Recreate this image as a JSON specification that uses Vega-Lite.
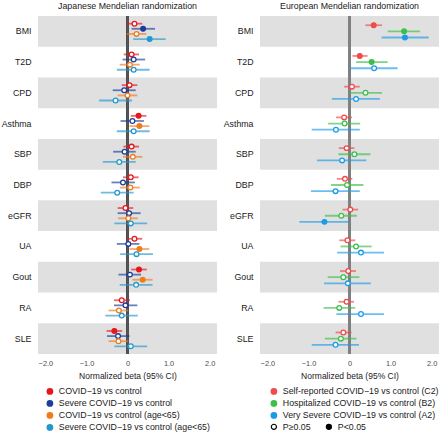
{
  "$schema": "https://vega.github.io/schema/vega-lite/v6.json",
  "padding": {"left": 1, "top": 1, "right": 0, "bottom": 0},
  "spacing": 6,
  "config": {
    "font": "Liberation Sans",
    "view": {"stroke": null},
    "title": {"fontSize": 8.8, "fontWeight": "normal", "color": "#1a1a1a", "offset": 4.7, "anchor": "middle"},
    "axisX": {"ticks": false, "domain": false, "labelFontSize": 7.4, "labelColor": "#4d4d4d", "labelPadding": 5, "titleFontSize": 8.5, "titleFontWeight": "normal", "titleColor": "#1a1a1a", "titlePadding": 5, "gridColor": "#bdbdbd", "gridDash": [2, 2], "gridWidth": 0.8, "zindex": 1},
    "axisY": {"ticks": false, "domain": false, "grid": false, "labelFontSize": 8.8, "labelColor": "#1a1a1a", "labelPadding": 7, "title": null},
    "legend": {"labelFontSize": 8.8, "labelColor": "#1a1a1a", "padding": 0, "symbolType": "circle", "symbolSize": 45, "rowPadding": 2, "labelOffset": 4.5}
  },
  "datasets": {
    "jp": [
      {"t": "BMI", "s": "COVID−19 vs control", "b": 0.17, "lo": -0.02, "hi": 0.36, "p": "P≥0.05"},
      {"t": "BMI", "s": "Severe COVID−19 vs control", "b": 0.38, "lo": 0.10, "hi": 0.67, "p": "P<0.05"},
      {"t": "BMI", "s": "COVID−19 vs control (age<65)", "b": 0.22, "lo": -0.02, "hi": 0.46, "p": "P≥0.05"},
      {"t": "BMI", "s": "Severe COVID−19 vs control (age<65)", "b": 0.54, "lo": 0.14, "hi": 0.93, "p": "P<0.05"},
      {"t": "T2D", "s": "COVID−19 vs control", "b": 0.10, "lo": -0.09, "hi": 0.28, "p": "P≥0.05"},
      {"t": "T2D", "s": "Severe COVID−19 vs control", "b": 0.15, "lo": -0.12, "hi": 0.43, "p": "P≥0.05"},
      {"t": "T2D", "s": "COVID−19 vs control (age<65)", "b": 0.06, "lo": -0.19, "hi": 0.30, "p": "P≥0.05"},
      {"t": "T2D", "s": "Severe COVID−19 vs control (age<65)", "b": 0.15, "lo": -0.26, "hi": 0.54, "p": "P≥0.05"},
      {"t": "CPD", "s": "COVID−19 vs control", "b": 0.05, "lo": -0.14, "hi": 0.24, "p": "P≥0.05"},
      {"t": "CPD", "s": "Severe COVID−19 vs control", "b": -0.08, "lo": -0.36, "hi": 0.20, "p": "P≥0.05"},
      {"t": "CPD", "s": "COVID−19 vs control (age<65)", "b": 0.00, "lo": -0.24, "hi": 0.24, "p": "P≥0.05"},
      {"t": "CPD", "s": "Severe COVID−19 vs control (age<65)", "b": -0.29, "lo": -0.69, "hi": 0.11, "p": "P≥0.05"},
      {"t": "Asthma", "s": "COVID−19 vs control", "b": 0.27, "lo": 0.08, "hi": 0.46, "p": "P<0.05"},
      {"t": "Asthma", "s": "Severe COVID−19 vs control", "b": 0.12, "lo": -0.17, "hi": 0.40, "p": "P≥0.05"},
      {"t": "Asthma", "s": "COVID−19 vs control (age<65)", "b": 0.29, "lo": 0.05, "hi": 0.53, "p": "P<0.05"},
      {"t": "Asthma", "s": "Severe COVID−19 vs control (age<65)", "b": 0.15, "lo": -0.26, "hi": 0.54, "p": "P≥0.05"},
      {"t": "SBP", "s": "COVID−19 vs control", "b": 0.10, "lo": -0.10, "hi": 0.28, "p": "P≥0.05"},
      {"t": "SBP", "s": "Severe COVID−19 vs control", "b": -0.07, "lo": -0.35, "hi": 0.20, "p": "P≥0.05"},
      {"t": "SBP", "s": "COVID−19 vs control (age<65)", "b": 0.13, "lo": -0.11, "hi": 0.36, "p": "P≥0.05"},
      {"t": "SBP", "s": "Severe COVID−19 vs control (age<65)", "b": -0.20, "lo": -0.60, "hi": 0.20, "p": "P≥0.05"},
      {"t": "DBP", "s": "COVID−19 vs control", "b": 0.08, "lo": -0.11, "hi": 0.27, "p": "P≥0.05"},
      {"t": "DBP", "s": "Severe COVID−19 vs control", "b": -0.11, "lo": -0.39, "hi": 0.18, "p": "P≥0.05"},
      {"t": "DBP", "s": "COVID−19 vs control (age<65)", "b": 0.07, "lo": -0.18, "hi": 0.30, "p": "P≥0.05"},
      {"t": "DBP", "s": "Severe COVID−19 vs control (age<65)", "b": -0.25, "lo": -0.65, "hi": 0.15, "p": "P≥0.05"},
      {"t": "eGFR", "s": "COVID−19 vs control", "b": -0.05, "lo": -0.24, "hi": 0.14, "p": "P≥0.05"},
      {"t": "eGFR", "s": "Severe COVID−19 vs control", "b": 0.04, "lo": -0.24, "hi": 0.32, "p": "P≥0.05"},
      {"t": "eGFR", "s": "COVID−19 vs control (age<65)", "b": 0.02, "lo": -0.23, "hi": 0.25, "p": "P≥0.05"},
      {"t": "eGFR", "s": "Severe COVID−19 vs control (age<65)", "b": 0.08, "lo": -0.32, "hi": 0.48, "p": "P≥0.05"},
      {"t": "UA", "s": "COVID−19 vs control", "b": 0.17, "lo": -0.02, "hi": 0.36, "p": "P≥0.05"},
      {"t": "UA", "s": "Severe COVID−19 vs control", "b": 0.02, "lo": -0.26, "hi": 0.29, "p": "P≥0.05"},
      {"t": "UA", "s": "COVID−19 vs control (age<65)", "b": 0.29, "lo": 0.05, "hi": 0.53, "p": "P<0.05"},
      {"t": "UA", "s": "Severe COVID−19 vs control (age<65)", "b": 0.22, "lo": -0.18, "hi": 0.62, "p": "P≥0.05"},
      {"t": "Gout", "s": "COVID−19 vs control", "b": 0.28, "lo": 0.09, "hi": 0.47, "p": "P<0.05"},
      {"t": "Gout", "s": "Severe COVID−19 vs control", "b": 0.06, "lo": -0.22, "hi": 0.33, "p": "P≥0.05"},
      {"t": "Gout", "s": "COVID−19 vs control (age<65)", "b": 0.37, "lo": 0.12, "hi": 0.61, "p": "P<0.05"},
      {"t": "Gout", "s": "Severe COVID−19 vs control (age<65)", "b": 0.21, "lo": -0.19, "hi": 0.61, "p": "P≥0.05"},
      {"t": "RA", "s": "COVID−19 vs control", "b": -0.14, "lo": -0.33, "hi": 0.06, "p": "P≥0.05"},
      {"t": "RA", "s": "Severe COVID−19 vs control", "b": -0.05, "lo": -0.33, "hi": 0.24, "p": "P≥0.05"},
      {"t": "RA", "s": "COVID−19 vs control (age<65)", "b": -0.21, "lo": -0.46, "hi": 0.02, "p": "P≥0.05"},
      {"t": "RA", "s": "Severe COVID−19 vs control (age<65)", "b": -0.14, "lo": -0.54, "hi": 0.25, "p": "P≥0.05"},
      {"t": "SLE", "s": "COVID−19 vs control", "b": -0.32, "lo": -0.51, "hi": -0.13, "p": "P<0.05"},
      {"t": "SLE", "s": "Severe COVID−19 vs control", "b": -0.23, "lo": -0.50, "hi": 0.05, "p": "P≥0.05"},
      {"t": "SLE", "s": "COVID−19 vs control (age<65)", "b": -0.22, "lo": -0.46, "hi": 0.02, "p": "P≥0.05"},
      {"t": "SLE", "s": "Severe COVID−19 vs control (age<65)", "b": 0.08, "lo": -0.32, "hi": 0.48, "p": "P≥0.05"}
    ],
    "eu": [
      {"t": "BMI", "s": "Self-reported COVID−19 vs control (C2)", "b": 0.59, "lo": 0.39, "hi": 0.79, "p": "P<0.05"},
      {"t": "BMI", "s": "Hospitalized COVID−19 vs control (B2)", "b": 1.33, "lo": 0.93, "hi": 1.72, "p": "P<0.05"},
      {"t": "BMI", "s": "Very Severe COVID−19 vs control (A2)", "b": 1.35, "lo": 0.78, "hi": 1.93, "p": "P<0.05"},
      {"t": "T2D", "s": "Self-reported COVID−19 vs control (C2)", "b": 0.25, "lo": 0.07, "hi": 0.44, "p": "P<0.05"},
      {"t": "T2D", "s": "Hospitalized COVID−19 vs control (B2)", "b": 0.54, "lo": 0.16, "hi": 0.93, "p": "P<0.05"},
      {"t": "T2D", "s": "Very Severe COVID−19 vs control (A2)", "b": 0.60, "lo": 0.02, "hi": 1.17, "p": "P≥0.05"},
      {"t": "CPD", "s": "Self-reported COVID−19 vs control (C2)", "b": 0.06, "lo": -0.13, "hi": 0.25, "p": "P≥0.05"},
      {"t": "CPD", "s": "Hospitalized COVID−19 vs control (B2)", "b": 0.39, "lo": 0.00, "hi": 0.79, "p": "P≥0.05"},
      {"t": "CPD", "s": "Very Severe COVID−19 vs control (A2)", "b": 0.16, "lo": -0.43, "hi": 0.74, "p": "P≥0.05"},
      {"t": "Asthma", "s": "Self-reported COVID−19 vs control (C2)", "b": -0.13, "lo": -0.33, "hi": 0.06, "p": "P≥0.05"},
      {"t": "Asthma", "s": "Hospitalized COVID−19 vs control (B2)", "b": -0.12, "lo": -0.52, "hi": 0.26, "p": "P≥0.05"},
      {"t": "Asthma", "s": "Very Severe COVID−19 vs control (A2)", "b": -0.33, "lo": -0.92, "hi": 0.25, "p": "P≥0.05"},
      {"t": "SBP", "s": "Self-reported COVID−19 vs control (C2)", "b": -0.07, "lo": -0.26, "hi": 0.12, "p": "P≥0.05"},
      {"t": "SBP", "s": "Hospitalized COVID−19 vs control (B2)", "b": 0.12, "lo": -0.27, "hi": 0.51, "p": "P≥0.05"},
      {"t": "SBP", "s": "Very Severe COVID−19 vs control (A2)", "b": -0.18, "lo": -0.79, "hi": 0.41, "p": "P≥0.05"},
      {"t": "DBP", "s": "Self-reported COVID−19 vs control (C2)", "b": -0.11, "lo": -0.31, "hi": 0.07, "p": "P≥0.05"},
      {"t": "DBP", "s": "Hospitalized COVID−19 vs control (B2)", "b": -0.06, "lo": -0.45, "hi": 0.34, "p": "P≥0.05"},
      {"t": "DBP", "s": "Very Severe COVID−19 vs control (A2)", "b": -0.34, "lo": -0.94, "hi": 0.25, "p": "P≥0.05"},
      {"t": "eGFR", "s": "Self-reported COVID−19 vs control (C2)", "b": 0.02, "lo": -0.17, "hi": 0.21, "p": "P≥0.05"},
      {"t": "eGFR", "s": "Hospitalized COVID−19 vs control (B2)", "b": -0.20, "lo": -0.60, "hi": 0.18, "p": "P≥0.05"},
      {"t": "eGFR", "s": "Very Severe COVID−19 vs control (A2)", "b": -0.61, "lo": -1.22, "hi": -0.01, "p": "P<0.05"},
      {"t": "UA", "s": "Self-reported COVID−19 vs control (C2)", "b": -0.05, "lo": -0.25, "hi": 0.14, "p": "P≥0.05"},
      {"t": "UA", "s": "Hospitalized COVID−19 vs control (B2)", "b": 0.16, "lo": -0.22, "hi": 0.54, "p": "P≥0.05"},
      {"t": "UA", "s": "Very Severe COVID−19 vs control (A2)", "b": 0.28, "lo": -0.30, "hi": 0.84, "p": "P≥0.05"},
      {"t": "Gout", "s": "Self-reported COVID−19 vs control (C2)", "b": -0.03, "lo": -0.23, "hi": 0.16, "p": "P≥0.05"},
      {"t": "Gout", "s": "Hospitalized COVID−19 vs control (B2)", "b": -0.15, "lo": -0.53, "hi": 0.24, "p": "P≥0.05"},
      {"t": "Gout", "s": "Very Severe COVID−19 vs control (A2)", "b": -0.04, "lo": -0.62, "hi": 0.52, "p": "P≥0.05"},
      {"t": "RA", "s": "Self-reported COVID−19 vs control (C2)", "b": -0.07, "lo": -0.27, "hi": 0.11, "p": "P≥0.05"},
      {"t": "RA", "s": "Hospitalized COVID−19 vs control (B2)", "b": -0.25, "lo": -0.63, "hi": 0.14, "p": "P≥0.05"},
      {"t": "RA", "s": "Very Severe COVID−19 vs control (A2)", "b": 0.28, "lo": -0.32, "hi": 0.84, "p": "P≥0.05"},
      {"t": "SLE", "s": "Self-reported COVID−19 vs control (C2)", "b": -0.15, "lo": -0.34, "hi": 0.05, "p": "P≥0.05"},
      {"t": "SLE", "s": "Hospitalized COVID−19 vs control (B2)", "b": -0.21, "lo": -0.60, "hi": 0.17, "p": "P≥0.05"},
      {"t": "SLE", "s": "Very Severe COVID−19 vs control (A2)", "b": -0.34, "lo": -0.92, "hi": 0.23, "p": "P≥0.05"}
    ]
  },
  "resolve": {"scale": {"fill": "independent", "stroke": "independent", "yOffset": "independent", "shape": "independent"}, "legend": {"fill": "independent", "stroke": "independent", "shape": "independent"}},
  "hconcat": [
    {
      "width": 179,
      "height": 338,
      "title": {"text": "Japanese Mendelian randomization"},
      "data": {"name": "jp"},
      "layer": [
        {
          "transform": [
            {"filter": {"field": "t", "oneOf": ["BMI", "CPD", "SBP", "eGFR", "Gout", "SLE"]}},
            {"aggregate": [{"op": "count", "as": "n"}], "groupby": ["t"]}
          ],
          "mark": {"type": "rect", "color": "#e0e0e0"},
          "encoding": {
            "y": {"field": "t", "type": "nominal", "scale": {"domain": ["BMI", "T2D", "CPD", "Asthma", "SBP", "DBP", "eGFR", "UA", "Gout", "RA", "SLE"], "paddingInner": 0, "paddingOuter": 0}},
            "x": {"datum": -2.18, "type": "quantitative", "scale": {"domain": [-2.18, 2.18], "nice": false, "zero": false}, "axis": {"values": [-2, -1, 0, 1, 2], "title": "Normalized beta (95% CI)", "labelExpr": "datum.value === 0 ? '0' : format(datum.value, '.1f')", "gridOpacity": {"condition": {"test": "datum.value === 0", "value": 0}, "value": 1}}},
            "x2": {"datum": 2.18}
          }
        },
        {
          "mark": {"type": "rule", "color": "#555555", "strokeWidth": 1.2},
          "encoding": {"x": {"datum": 0, "type": "quantitative"}}
        },
        {
          "mark": {"type": "rule", "strokeWidth": 1.8, "strokeOpacity": 0.65},
          "encoding": {
            "y": {"field": "t", "type": "nominal"},
            "yOffset": {"field": "s", "type": "nominal", "scale": {"domain": ["COVID−19 vs control", "Severe COVID−19 vs control", "COVID−19 vs control (age<65)", "Severe COVID−19 vs control (age<65)"], "paddingInner": 0, "paddingOuter": 1.93}},
            "x": {"field": "lo", "type": "quantitative"},
            "x2": {"field": "hi"},
            "stroke": {"field": "s", "type": "nominal"}
          }
        },
        {
          "mark": {"type": "point", "shape": "circle", "size": 22, "strokeWidth": 1.3, "opacity": 1},
          "encoding": {
            "y": {"field": "t", "type": "nominal"},
            "yOffset": {"field": "s", "type": "nominal"},
            "x": {"field": "b", "type": "quantitative"},
            "stroke": {
              "field": "s", "type": "nominal",
              "scale": {"domain": ["COVID−19 vs control", "Severe COVID−19 vs control", "COVID−19 vs control (age<65)", "Severe COVID−19 vs control (age<65)"], "range": ["#e8161c", "#1c3d9a", "#ef7b1b", "#2398d0"]},
              "legend": {"orient": "none", "legendX": 7.5, "legendY": 371, "title": null, "direction": "vertical", "symbolType": "circle", "symbolStrokeWidth": 0}
            },
            "fill": {
              "field": "s", "type": "nominal",
              "scale": {"domain": ["COVID−19 vs control", "Severe COVID−19 vs control", "COVID−19 vs control (age<65)", "Severe COVID−19 vs control (age<65)"], "range": ["#e8161c", "#1c3d9a", "#ef7b1b", "#2398d0"]},
              "legend": {"orient": "none", "legendX": 7.5, "legendY": 371, "title": null, "direction": "vertical", "symbolType": "circle", "symbolStrokeWidth": 0},
              "condition": {"test": "datum.p === 'P≥0.05'", "value": "white"}
            }
          }
        }
      ]
    },
    {
      "width": 179,
      "height": 338,
      "title": {"text": "European Mendelian randomization"},
      "data": {"name": "eu"},
      "layer": [
        {
          "transform": [
            {"filter": {"field": "t", "oneOf": ["BMI", "CPD", "SBP", "eGFR", "Gout", "SLE"]}},
            {"aggregate": [{"op": "count", "as": "n"}], "groupby": ["t"]}
          ],
          "mark": {"type": "rect", "color": "#e0e0e0"},
          "encoding": {
            "y": {"field": "t", "type": "nominal", "scale": {"domain": ["BMI", "T2D", "CPD", "Asthma", "SBP", "DBP", "eGFR", "UA", "Gout", "RA", "SLE"], "paddingInner": 0, "paddingOuter": 0}},
            "x": {"datum": -2.18, "type": "quantitative", "scale": {"domain": [-2.18, 2.18], "nice": false, "zero": false}, "axis": {"values": [-2, -1, 0, 1, 2], "title": "Normalized beta (95% CI)", "labelExpr": "datum.value === 0 ? '0' : format(datum.value, '.1f')", "gridOpacity": {"condition": {"test": "datum.value === 0", "value": 0}, "value": 1}}},
            "x2": {"datum": 2.18}
          }
        },
        {
          "mark": {"type": "rule", "color": "#808080", "strokeWidth": 1.8},
          "encoding": {"x": {"datum": 0, "type": "quantitative"}}
        },
        {
          "mark": {"type": "rule", "strokeWidth": 1.8, "strokeOpacity": 0.65},
          "encoding": {
            "y": {"field": "t", "type": "nominal"},
            "yOffset": {"field": "s", "type": "nominal", "scale": {"domain": ["Self-reported COVID−19 vs control (C2)", "Hospitalized COVID−19 vs control (B2)", "Very Severe COVID−19 vs control (A2)"], "paddingInner": 0, "paddingOuter": 1.4}},
            "x": {"field": "lo", "type": "quantitative"},
            "x2": {"field": "hi"},
            "stroke": {"field": "s", "type": "nominal"}
          }
        },
        {
          "mark": {"type": "point", "filled": true, "color": "black", "size": 6, "strokeWidth": 0},
          "encoding": {
            "y": {"field": "t", "type": "nominal"},
            "yOffset": {"field": "s", "type": "nominal"},
            "x": {"field": "b", "type": "quantitative"},
            "shape": {
              "field": "p", "type": "nominal",
              "scale": {"domain": ["P≥0.05", "P<0.05"], "range": ["M-1,0A1,1 0 1,0 1,0A1,1 0 1,0 -1,0ZM-0.62,0A0.62,0.62 0 1,1 0.62,0A0.62,0.62 0 1,1 -0.62,0Z", "circle"]},
              "legend": {"orient": "none", "legendX": 9.5, "legendY": 406, "title": null, "direction": "horizontal", "columns": 2, "columnPadding": 13, "symbolSize": 40, "symbolFillColor": "black", "symbolStrokeWidth": 0, "symbolOpacity": 1}
            }
          }
        },
        {
          "mark": {"type": "point", "shape": "circle", "size": 22, "strokeWidth": 1.3, "opacity": 1},
          "encoding": {
            "y": {"field": "t", "type": "nominal"},
            "yOffset": {"field": "s", "type": "nominal"},
            "x": {"field": "b", "type": "quantitative"},
            "stroke": {
              "field": "s", "type": "nominal",
              "scale": {"domain": ["Self-reported COVID−19 vs control (C2)", "Hospitalized COVID−19 vs control (B2)", "Very Severe COVID−19 vs control (A2)"], "range": ["#f04a4a", "#3cbf4a", "#1b9be6"]},
              "legend": {"orient": "none", "legendX": 9.5, "legendY": 371, "title": null, "direction": "vertical", "symbolType": "circle", "symbolStrokeWidth": 0}
            },
            "fill": {
              "field": "s", "type": "nominal",
              "scale": {"domain": ["Self-reported COVID−19 vs control (C2)", "Hospitalized COVID−19 vs control (B2)", "Very Severe COVID−19 vs control (A2)"], "range": ["#f04a4a", "#3cbf4a", "#1b9be6"]},
              "legend": {"orient": "none", "legendX": 9.5, "legendY": 371, "title": null, "direction": "vertical", "symbolType": "circle", "symbolStrokeWidth": 0},
              "condition": {"test": "datum.p === 'P≥0.05'", "value": "white"}
            }
          }
        }
      ]
    }
  ]
}
